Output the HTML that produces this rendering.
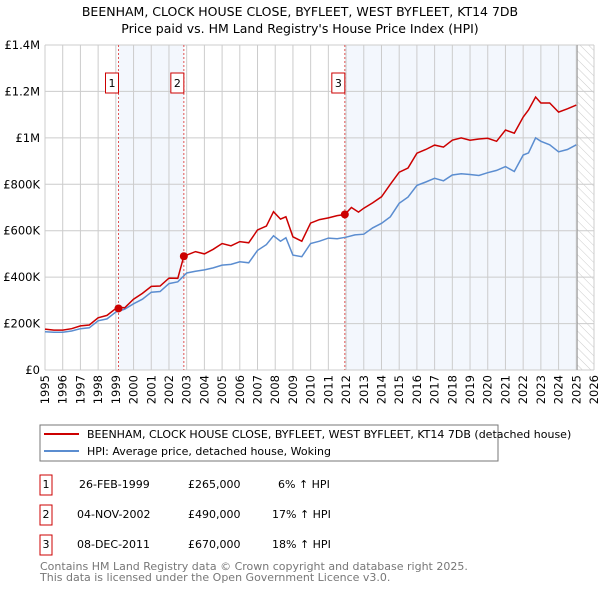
<!DOCTYPE html>
<html><head><meta charset="utf-8"><style>
body{margin:0;background:#fff;font-family:"Liberation Sans","DejaVu Sans",sans-serif;}
svg text{font-family:"DejaVu Sans","Liberation Sans",sans-serif;}
</style></head><body>
<svg id="c" width="600" height="590" viewBox="0 0 600 590" xmlns="http://www.w3.org/2000/svg">
<defs><pattern id="hatch" width="6" height="6" patternUnits="userSpaceOnUse" patternTransform="rotate(-45)"><line x1="0" y1="0" x2="0" y2="6" stroke="#ccc" stroke-width="1"/></pattern></defs>
<text x="300" y="16" text-anchor="middle" font-size="12.5" fill="#000">BEENHAM, CLOCK HOUSE CLOSE, BYFLEET, WEST BYFLEET, KT14 7DB</text>
<text x="300" y="33" text-anchor="middle" font-size="12.5" fill="#000">Price paid vs. HM Land Registry's House Price Index (HPI)</text>
<g id="plot"></g>
<g>
<rect x="40" y="425" width="458" height="36" fill="#fff" stroke="#777"/>
<line x1="44" y1="434" x2="79" y2="434" stroke="#cc0000" stroke-width="2"/>
<text x="87" y="438" font-size="11">BEENHAM, CLOCK HOUSE CLOSE, BYFLEET, WEST BYFLEET, KT14 7DB (detached house)</text>
<line x1="44" y1="451" x2="79" y2="451" stroke="#5b8dd0" stroke-width="2"/>
<text x="87" y="455" font-size="11">HPI: Average price, detached house, Woking</text>
</g>
<g font-size="11">
<rect x="40" y="475" width="12" height="20" fill="#fff" stroke="#cc0000"/><text x="46" y="488" text-anchor="middle">1</text>
<text x="79" y="488">26-FEB-1999</text><text x="188" y="488">£265,000</text><text x="278" y="488">6% ↑ HPI</text>
<rect x="40" y="505" width="12" height="20" fill="#fff" stroke="#cc0000"/><text x="46" y="518" text-anchor="middle">2</text>
<text x="77" y="518">04-NOV-2002</text><text x="188" y="518">£490,000</text><text x="272" y="518">17% ↑ HPI</text>
<rect x="40" y="535" width="12" height="20" fill="#fff" stroke="#cc0000"/><text x="46" y="548" text-anchor="middle">3</text>
<text x="77" y="548">08-DEC-2011</text><text x="188" y="548">£670,000</text><text x="272" y="548">18% ↑ HPI</text>
</g>
<text x="40" y="570" font-size="11" fill="#777">Contains HM Land Registry data © Crown copyright and database right 2025.</text>
<text x="40" y="581" font-size="11" fill="#777">This data is licensed under the Open Government Licence v3.0.</text>
</svg>
<script>
const hpiYears=[1995,1995.5,1996,1996.5,1997,1997.5,1998,1998.5,1999,1999.5,2000,2000.5,2001,2001.5,2002,2002.5,2003,2003.5,2004,2004.5,2005,2005.5,2006,2006.5,2007,2007.5,2007.9,2008.3,2008.6,2009,2009.5,2010,2010.5,2011,2011.5,2012,2012.5,2013,2013.5,2014,2014.5,2015,2015.5,2016,2016.5,2017,2017.5,2018,2018.5,2019,2019.5,2020,2020.5,2021,2021.5,2022,2022.3,2022.7,2023,2023.5,2024,2024.5,2025];
const hpiValues=[165,163,163,168,178,182,212,220,250,262,285,305,335,338,372,380,418,425,431,440,452,455,466,462,515,540,578,555,570,495,488,545,555,568,565,572,582,585,612,632,660,718,745,795,810,826,815,840,845,842,838,850,860,876,855,926,935,1000,985,970,940,950,970];
const propYears=[1995,1995.5,1996,1996.5,1997,1997.5,1998,1998.5,1999,1999.2,1999.5,2000,2000.5,2001,2001.5,2002,2002.5,2002.84,2003,2003.5,2004,2004.5,2005,2005.5,2006,2006.5,2007,2007.5,2007.9,2008.3,2008.6,2009,2009.5,2010,2010.5,2011,2011.5,2011.93,2012.3,2012.7,2013,2013.5,2014,2014.5,2015,2015.5,2016,2016.5,2017,2017.5,2018,2018.5,2019,2019.5,2020,2020.5,2021,2021.5,2022,2022.3,2022.7,2023,2023.5,2024,2024.5,2025];
const propValues=[176,172,172,178,190,194,225,235,265,270,268,305,330,360,362,396,395,490,495,510,500,520,545,535,553,548,603,620,682,650,660,574,555,633,648,655,665,670,700,680,697,720,746,800,852,870,934,950,969,960,990,1000,990,995,998,985,1034,1020,1090,1120,1176,1150,1150,1111,1125,1141];
const saleYears=[1999.15,2002.84,2011.93];
const saleValues=[265,490,670];
const yTicks=[0,200,400,600,800,1000,1200,1400];
const yTickLabels=["£0","£200K","£400K","£600K","£800K","£1M","£1.2M","£1.4M"];
const xTicks=[1995,1996,1997,1998,1999,2000,2001,2002,2003,2004,2005,2006,2007,2008,2009,2010,2011,2012,2013,2014,2015,2016,2017,2018,2019,2020,2021,2022,2023,2024,2025,2026];
const NS="http://www.w3.org/2000/svg";
const X0=45,X1=594,Y0=370,Y1=45;
function xs(y){return X0+(y-1995)/(2026-1995)*(X1-X0);}
function ys(v){return Y0-v/1400*(Y0-Y1);}
const g=document.getElementById('plot');
function mk(t,a){const e=document.createElementNS(NS,t);for(const k in a)e.setAttribute(k,a[k]);g.appendChild(e);return e;}
let e;
e=mk('rect',{x:xs(saleYears[0]),y:Y1,width:xs(saleYears[1])-xs(saleYears[0]),height:Y0-Y1,fill:'#eef3fc',opacity:0.7});


e=mk('rect',{x:xs(saleYears[2]),y:Y1,width:xs(2025.05)-xs(saleYears[2]),height:Y0-Y1,fill:'#eef3fc',opacity:0.7});


e=mk('rect',{x:xs(2025.05),y:Y1,width:X1-xs(2025.05),height:Y0-Y1,fill:'url(#hatch)'});


xTicks.forEach(t=>{
 e=mk('line',{x1:xs(t),x2:xs(t),y1:Y1,y2:Y0,stroke:'#ccc','stroke-width':1});
 
 
 e=mk('text',{x:0,y:0,'text-anchor':'end','font-size':11.5,transform:'translate('+(xs(t)+4)+',375) rotate(-90)'});
 e.textContent=t;
 
 
});
yTicks.forEach((t,i)=>{
 e=mk('line',{x1:X0,x2:X1,y1:ys(t),y2:ys(t),stroke:'#ccc','stroke-width':1});
 
 
 e=mk('text',{x:40,y:ys(t)+4,'text-anchor':'end','font-size':11.5});
 e.textContent=yTickLabels[i];
 
 
});
e=mk('line',{x1:xs(2025.05),x2:xs(2025.05),y1:Y1,y2:Y0,stroke:'#999','stroke-width':1});


saleYears.forEach((s,i)=>{
 e=mk('line',{x1:xs(s),x2:xs(s),y1:Y1,y2:Y0,stroke:'#e05555','stroke-width':1,'stroke-dasharray':'2,2'});
 
 
 e=mk('rect',{x:xs(s)-13,y:73,width:13,height:20,fill:'#fff',stroke:'#cc0000'});
 
 
 e=mk('text',{x:xs(s)-6.5,y:87,'text-anchor':'middle','font-size':11});
 e.textContent=String(i+1);
 
 
});
e=mk('path',{d:hpiYears.map((y,i)=>(i?'L':'M')+xs(y).toFixed(1)+','+ys(hpiValues[i]).toFixed(1)).join(''),fill:'none',stroke:'#5b8dd0','stroke-width':1.5});


e=mk('path',{d:propYears.map((y,i)=>(i?'L':'M')+xs(y).toFixed(1)+','+ys(propValues[i]).toFixed(1)).join(''),fill:'none',stroke:'#cc0000','stroke-width':1.5});


saleYears.forEach((s,i)=>{
 e=mk('circle',{cx:xs(s),cy:ys(saleValues[i]),r:4,fill:'#cc0000'});
 
 
});
</script>
</body></html>
